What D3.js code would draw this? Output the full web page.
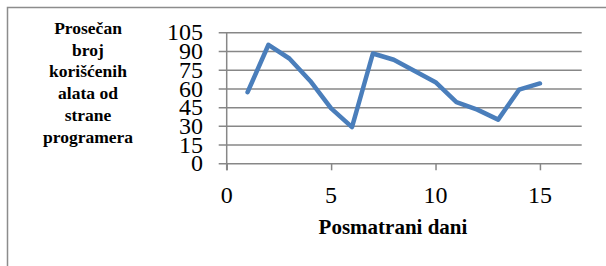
<!DOCTYPE html>
<html>
<head>
<meta charset="utf-8">
<script src="https://cdn.jsdelivr.net/npm/d3@7"></script>
<style>
  body { margin: 0; background: #fff; }
  svg { display: block; }
</style>
</head>
<body>
<div id="chart"></div>
<script>
const days = [1, 2, 3, 4, 5, 6, 7, 8, 9, 10, 11, 12, 13, 14, 15];
const toolCounts = [57, 95, 84, 66, 44, 29, 88, 83, 74, 65, 49, 43, 35, 59, 64];
const xTicks = [0, 5, 10, 15];
const yTicks = [0, 15, 30, 45, 60, 75, 90, 105];
const yTitleLines = ["Prosečan", "broj", "korišćenih", "alata od", "strane", "programera"];
const xTitle = "Posmatrani dani";

const width = 606;
const height = 266;
const plot = { left: 226.7, right: 581.7, top: 32.3, bottom: 163.3 };
const gridColor = "#878787";
const lineColor = "#4a7ebb";
const serif = "'Liberation Serif', 'DejaVu Serif', serif";

const svg = d3.select("#chart")
  .append("svg")
  .attr("width", width)
  .attr("height", height)
  .attr("font-family", serif);

// outer frame (only left and top edges show)
svg.append("path")
  .attr("d", "M7.5,266V7.5H606")
  .attr("fill", "none")
  .attr("stroke", "#8c8c8c")
  .attr("stroke-width", 1.5);

const x = d3.scaleLinear().domain([0, 17]).range([plot.left, plot.right]);
const y = d3.scaleLinear().domain([0, 105]).range([plot.bottom, plot.top]);

// horizontal gridlines with outward ticks
svg.append("g")
  .attr("transform", `translate(${plot.left},0)`)
  .call(d3.axisLeft(y).tickValues(yTicks).tickSize(-(plot.right - plot.left)).tickFormat(""))
  .call((g) => g.select(".domain").remove())
  .call((g) => g.selectAll("line")
    .attr("x1", -8)
    .attr("stroke", gridColor)
    .attr("stroke-width", 1.5));

// y tick labels (tightly packed, as in the reference)
svg.append("g")
  .selectAll("text")
  .data(yTicks)
  .enter()
  .append("text")
  .attr("x", 203)
  .attr("y", (d) => y(d))
  .attr("dy", "0.34em")
  .attr("text-anchor", "end")
  .attr("font-family", serif)
  .attr("font-size", 24)
  .text((d) => d);

// x axis ticks
svg.append("g")
  .attr("transform", `translate(0,${plot.bottom})`)
  .call(d3.axisBottom(x).tickValues(xTicks).tickSize(7).tickFormat(""))
  .call((g) => g.select(".domain").remove())
  .call((g) => g.selectAll("line")
    .attr("stroke", gridColor)
    .attr("stroke-width", 1.5));

// y axis line
svg.append("line")
  .attr("x1", x(0))
  .attr("x2", x(0))
  .attr("y1", y(105))
  .attr("y2", plot.bottom + 7)
  .attr("stroke", gridColor)
  .attr("stroke-width", 1.5);

// x tick labels
svg.append("g")
  .selectAll("text")
  .data(xTicks)
  .enter()
  .append("text")
  .attr("x", (d) => x(d))
  .attr("y", 203)
  .attr("text-anchor", "middle")
  .attr("font-family", serif)
  .attr("font-size", 24)
  .text((d) => d);

// the series line
svg.append("path")
  .datum(days.map((d, i) => [d, toolCounts[i]]))
  .attr("fill", "none")
  .attr("stroke", lineColor)
  .attr("stroke-width", 4.5)
  .attr("stroke-linejoin", "round")
  .attr("stroke-linecap", "round")
  .attr("d", d3.line().x((d) => x(d[0])).y((d) => y(d[1])));

// y axis title
svg.append("text")
  .attr("x", 88)
  .attr("y", 34)
  .attr("text-anchor", "middle")
  .attr("font-family", serif)
  .attr("font-size", 17.5)
  .attr("font-weight", "bold")
  .selectAll("tspan")
  .data(yTitleLines)
  .enter()
  .append("tspan")
  .attr("x", 88)
  .attr("dy", (d, i) => (i === 0 ? 0 : 21.7))
  .text((d) => d);

// x axis title
svg.append("text")
  .attr("x", 393)
  .attr("y", 234)
  .attr("text-anchor", "middle")
  .attr("font-family", serif)
  .attr("font-size", 21)
  .attr("font-weight", "bold")
  .text(xTitle);
</script>
</body>
</html>
